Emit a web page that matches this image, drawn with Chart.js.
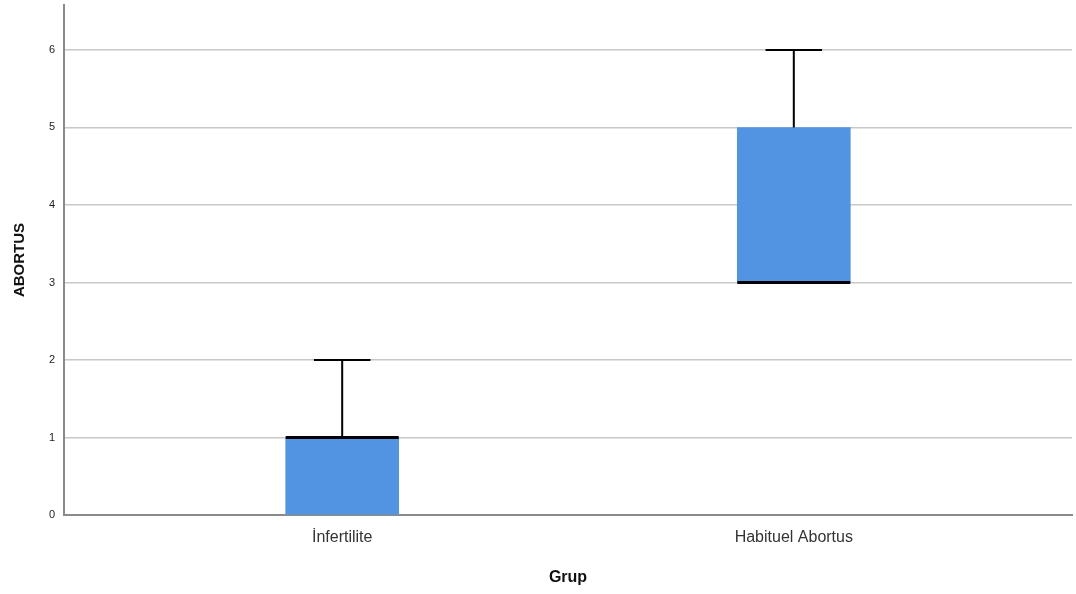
<!DOCTYPE html>
<html>
<head>
<meta charset="utf-8">
<script src="https://cdn.jsdelivr.net/npm/chart.js@4"></script>
<style>
  html, body { margin: 0; padding: 0; background: #fff; }
  #wrap { width: 1076px; height: 594px; position: relative; }
</style>
</head>
<body>
<div id="wrap"><canvas id="grafico"></canvas></div>
<script>
// boxplot values per group
const groups = ['İnfertilite', 'Habituel Abortus'];
const minVals = [0, 3];
const q1Vals = [0, 3];
const medianVals = [1, 3];
const q3Vals = [1, 5];
const maxVals = [2, 6];
const yTicks = [0, 1, 2, 3, 4, 5, 6];

const boxData = groups.map((g, i) => ({ x: i, y: [q1Vals[i], q3Vals[i]] }));

// whiskers + median lines, drawn through the chart scales
const boxExtras = {
    id: 'boxExtras',
    afterDatasetsDraw(chart) {
        const ctx = chart.ctx;
        const xs = chart.scales.x;
        const ys = chart.scales.y;
        const meta = chart.getDatasetMeta(0);
        ctx.save();
        ctx.strokeStyle = '#000';
        groups.forEach((g, i) => {
            const cx = xs.getPixelForValue(i);
            const w = meta.data[i].width;
            const capW = w / 2;
            // upper whisker
            ctx.lineWidth = 2;
            ctx.beginPath();
            ctx.moveTo(cx, ys.getPixelForValue(q3Vals[i]));
            ctx.lineTo(cx, ys.getPixelForValue(maxVals[i]));
            ctx.moveTo(cx - capW / 2, ys.getPixelForValue(maxVals[i]));
            ctx.lineTo(cx + capW / 2, ys.getPixelForValue(maxVals[i]));
            // lower whisker
            if (minVals[i] < q1Vals[i]) {
                ctx.moveTo(cx, ys.getPixelForValue(q1Vals[i]));
                ctx.lineTo(cx, ys.getPixelForValue(minVals[i]));
                ctx.moveTo(cx - capW / 2, ys.getPixelForValue(minVals[i]));
                ctx.lineTo(cx + capW / 2, ys.getPixelForValue(minVals[i]));
            }
            ctx.stroke();
            // median
            ctx.lineWidth = 3;
            ctx.beginPath();
            ctx.moveTo(cx - w / 2, ys.getPixelForValue(medianVals[i]));
            ctx.lineTo(cx + w / 2, ys.getPixelForValue(medianVals[i]));
            ctx.stroke();
        });
        ctx.restore();
    }
};

const grafico = document.getElementById('grafico');

const config = {
    type: 'bar',
    data: {
        datasets: [{
            data: boxData,
            backgroundColor: '#5294E2',
            borderWidth: 0,
            barThickness: 113
        }]
    },
    options: {
        responsive: true,
        maintainAspectRatio: false,
        animation: false,
        layout: { padding: { top: 5, right: 4, left: 0, bottom: 0 } },
        plugins: {
            legend: { display: false },
            tooltip: { enabled: false }
        },
        scales: {
            x: {
                type: 'linear',
                offset: false,
                min: -0.616,
                max: 1.616,
                afterBuildTicks: (scale) => {
                    scale.ticks = groups.map((g, i) => ({ value: i }));
                },
                afterFit: (scale) => { scale.height = 79; },
                grid: { display: false, offset: false },
                border: { display: true, color: '#8a8a8a', width: 2 },
                ticks: {
                    callback: (v) => groups[v],
                    color: '#333',
                    padding: 5,
                    maxRotation: 0,
                    font: { size: 16, family: 'Liberation Sans, Arial' }
                },
                title: {
                    display: true,
                    text: 'Grup',
                    color: '#111',
                    padding: { top: 0, bottom: 7 },
                    font: { size: 16, weight: 'bold', family: 'Liberation Sans, Arial' }
                }
            },
            y: {
                min: 0,
                max: 6.58,
                afterBuildTicks: (scale) => {
                    scale.ticks = yTicks.map(v => ({ value: v }));
                },
                afterFit: (scale) => {
                    scale.width = 64;
                    scale.paddingTop = 0;
                    scale.paddingBottom = 0;
                },
                grid: { color: '#c8c8c8', lineWidth: 1.5, drawTicks: false },
                border: { display: true, color: '#8a8a8a', width: 2 },
                ticks: {
                    color: '#222',
                    padding: 9,
                    font: { size: 11, family: 'Liberation Sans, Arial' }
                },
                title: {
                    display: true,
                    text: 'ABORTUS',
                    color: '#111',
                    padding: { top: 11, bottom: 11 },
                    font: { size: 15, weight: 'bold', family: 'Liberation Sans, Arial' }
                }
            }
        }
    },
    plugins: [boxExtras]
};

const grafico_1 = new Chart(grafico, config);
</script>
</body>
</html>
